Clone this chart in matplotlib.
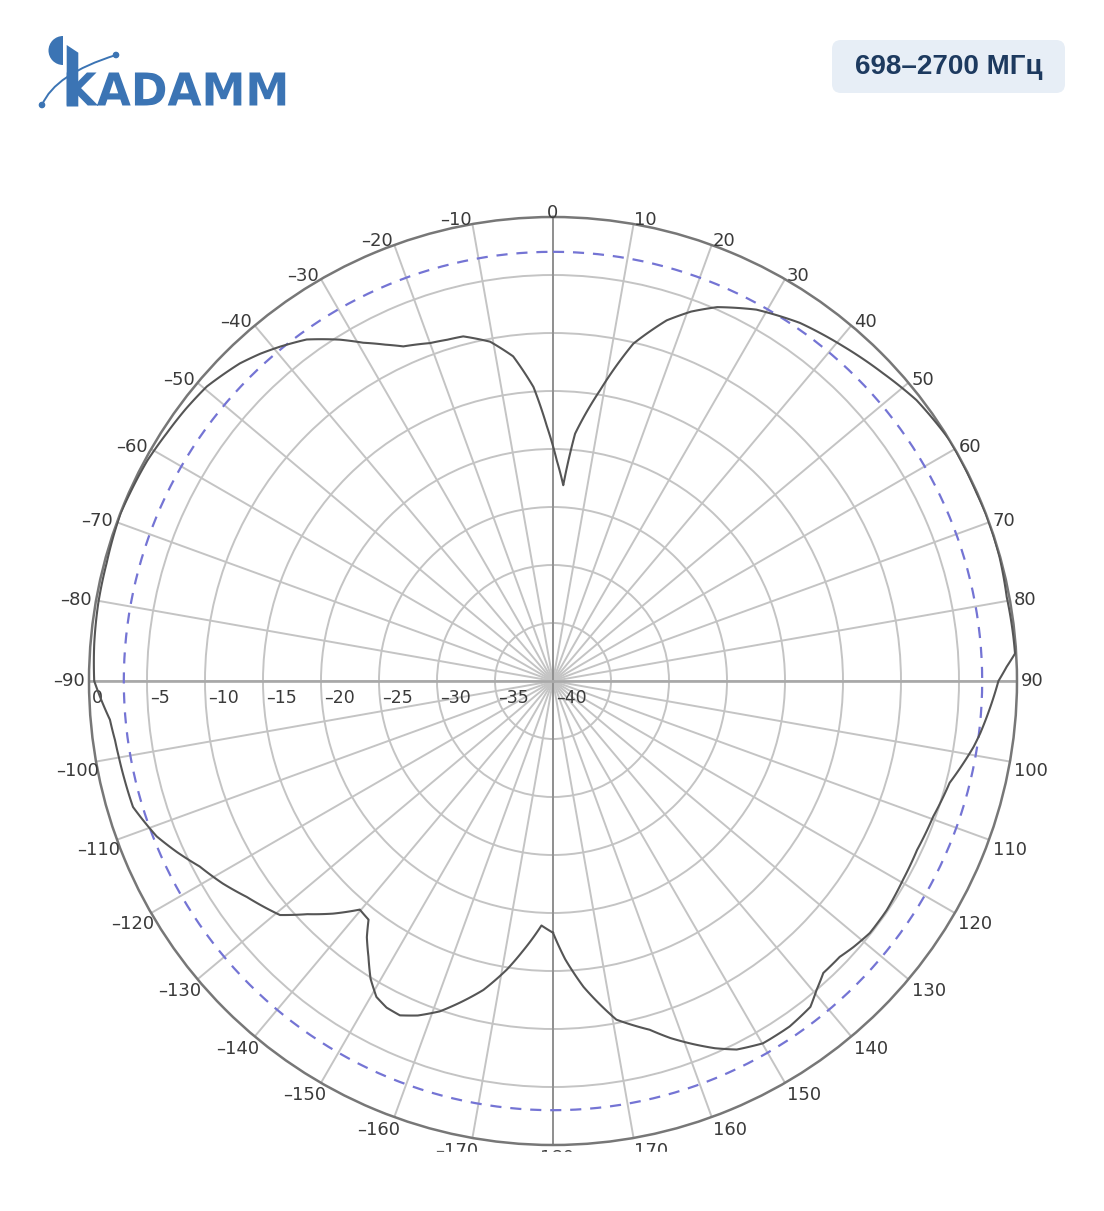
import numpy as np
import matplotlib.pyplot as plt
from matplotlib.patches import Wedge, Polygon, FancyBboxPatch, PathPatch, Rectangle, Circle
from matplotlib.textpath import TextPath
from matplotlib.font_manager import FontProperties
from matplotlib.path import Path
import matplotlib.transforms as mtransforms

# Diagramme de rayonnement (dB) en fonction de l'angle (degrés)
angles = [-180, -177.3, -173.5, -170.9, -167.3, -164, -161.1, -158, -155.4, -153,
          -150.8, -148.5, -146.2, -144, -142.3, -139.8, -136.6, -133.5, -130.6, -125.2,
          -121.5, -117.7, -114.5, -111.4, -106.7, -103, -99.9, -97.7, -95, -92.5,
          -90, -85.3, -80.3, -75.2, -68.8, -66.1, -61.5, -57.3, -53.5, -49.6,
          -44.6, -41.8, -39.2, -35.8, -32.0, -29.3, -26.5, -24.1, -20.0, -17.2,
          -14.6, -10.5, -7.0, -3.8, -1.4, 1.0, 3.0, 5.1, 9.2, 13.4,
          17.5, 20.5, 23.7, 28.7, 34.6, 41.0, 47.0, 52.3, 58.7, 66.1,
          68.9, 74.5, 79.5, 84.5, 86.6, 88.2, 90.0, 93.5, 97.0, 98.9,
          104.4, 109.6, 114.9, 119.6, 124.5, 128.5, 131.5, 133.9, 137.2, 139.5,
          141.7, 145.6, 149.9, 153.5, 156.2, 158.9, 161.8, 164.5, 169.4, 174.3,
          177.5, 180]
gain_db = [-18.3, -18.9, -16.5, -14.8, -12.7, -11.2, -9.9, -8.9, -8.3, -8.4,
           -8.8, -9.9, -11.4, -12.7, -14.0, -14.2, -12.4, -10.8, -9.0, -7.7,
           -6.6, -5.6, -4.4, -3.3, -2.2, -2.1, -2.0, -1.9, -1.66, -1.05,
           -0.45, -0.32, -0.23, -0.2, -0.02, -0.1, -0.2, -0.44, -0.6, -0.82,
           -1.55, -2.15, -2.8, -3.7, -5.3, -6.56, -7.6, -8.4, -9.0, -9.2,
           -9.3, -10.25, -11.8, -14.6, -18.0, -21.0, -23.1, -18.6, -14.6, -10.1,
           -7.4, -6.0, -4.8, -3.5, -2.5, -1.8, -1.1, -0.4, 0.0, -0.05,
           0.0, -0.05, -0.22, -0.13, -0.1, -0.87, -1.6, -2.25, -2.9, -3.3,
           -4.7, -5.2, -5.4, -5.3, -5.1, -5.1, -5.4, -5.7, -5.7, -5.0,
           -4.2, -3.9, -3.9, -4.5, -5.4, -6.45, -7.6, -8.8, -10.3, -13.5,
           -16.0, -18.3]

ring_values = [-35, -30, -25, -20, -15, -10, -5]
ring_labels = ['0', '-5', '-10', '-15', '-20', '-25', '-30', '-35', '-40']
ring_label_values = [0, -5, -10, -15, -20, -25, -30, -35, -40]
angle_ticks = list(range(-170, 190, 10))
half_power = -3

fig = plt.figure(figsize=(11.04, 12.11), dpi=100)

ax = fig.add_axes([0.0806, 0.0545, 0.8406, 0.7663], projection='polar')
ax.set_theta_zero_location('N')
ax.set_theta_direction(-1)
ax.set_ylim(-40, 0)
ax.set_thetagrids(range(0, 360, 10), labels=[])
ax.set_rgrids(ring_values, labels=[])
ax.grid(True, color='#c4c4c4', linewidth=1.4)
ax.tick_params(length=0)
ax.spines['polar'].set_color('#777777')
ax.spines['polar'].set_linewidth(1.8)

# axes principaux plus foncés
ax.plot(np.deg2rad([0, 0]), [-40, 0], color='#8c8c8c', lw=1.3, zorder=2)
ax.plot(np.deg2rad([180, 180]), [-40, 0], color='#8c8c8c', lw=1.3, zorder=2)
ax.plot(np.deg2rad([90, 90]), [-40, 0], color='#a8a8a8', lw=1.9, zorder=2)
ax.plot(np.deg2rad([-90, -90]), [-40, 0], color='#a8a8a8', lw=1.9, zorder=2)

# cercle -3 dB
full = np.deg2rad(np.linspace(0, 360, 721))
ax.plot(full, np.full_like(full, half_power), color='#7474d4', lw=1.6,
        linestyle=(0, (5, 4)), zorder=3)

# diagramme (tracé lissé en coordonnées polaires)
line, = ax.plot(np.deg2rad(angles), gain_db, color='#555555', lw=1.5, zorder=4)
line.get_path()._interpolation_steps = 40

# étiquettes d'angle
lab_color = '#3a3a3a'
shift_right = mtransforms.offset_copy(ax.transData, fig=fig, x=7, y=0, units='dots')
for a in angle_ticks:
    tr_txt = ax.transData
    if a == 0:
        ha, va = 'center', 'center'
    elif a == 180:
        ha, va = 'center', 'top'
    elif a > 0:
        ha = 'left'
        va = 'center' if a <= 90 else 'top'
    else:
        ha = 'right'
        va = 'center' if a >= -90 else 'top'
        if a < -90:
            tr_txt = shift_right
    txt = str(a).replace('-', '–')
    if a == 180:
        txt = '–180'
    ax.text(np.deg2rad(a), 0.35, txt, ha=ha, va=va, fontsize=13,
            color=lab_color, clip_on=False, transform=tr_txt)

# étiquettes radiales
off = mtransforms.offset_copy(ax.transData, fig=fig, x=3, y=-8, units='dots')
for v, lbl in zip(ring_label_values, ring_labels):
    ax.text(np.deg2rad(-90), v, lbl.replace('-', '–'), transform=off,
            ha='left', va='top', fontsize=12.5, color=lab_color, clip_on=False)

# calque en coordonnées pixels : logo, badge, découpe du bas
ov = fig.add_axes([0, 0, 1, 1], zorder=10)
ov.set_xlim(0, 1104)
ov.set_ylim(1211, 0)
ov.axis('off')
ov.patch.set_alpha(0)

ov.add_patch(Rectangle((0, 1152), 1104, 60, color='white', zorder=1))

blue = '#3b74b4'
ov.add_patch(Wedge((63, 50.5), 14.5, 90, 270, color=blue, lw=0))
ov.add_patch(Polygon([(66.7, 45), (78.3, 52.7), (78.3, 106.5), (66.7, 106.5)],
                     closed=True, color=blue, lw=0))
tp = TextPath((0, 0), 'KADAMM', size=40,
              prop=FontProperties(family='DejaVu Sans', weight='bold'))
bb = tp.get_extents()
tr = (mtransforms.Affine2D().translate(-bb.x0, -bb.y0)
      .scale(218.5 / bb.width, -33.0 / bb.height).translate(66.7, 105.5))
ov.add_patch(PathPatch(tr.transform_path(tp), color=blue, lw=0))
arc = Path([(42, 105), (55, 74), (116, 55)], [Path.MOVETO, Path.CURVE3, Path.CURVE3])
ov.add_patch(PathPatch(arc, fill=False, ec=blue, lw=1.4))
ov.add_patch(Circle((42, 105), 2.6, color=blue))
ov.add_patch(Circle((116, 55), 2.6, color=blue))

ov.add_patch(FancyBboxPatch((832, 40), 233, 53, boxstyle='round,pad=0,rounding_size=9',
                            fc='#e7eef6', ec='none'))
ov.text(948.5, 67, '698–2700 МГц', ha='center', va='center', fontsize=20,
        fontweight='bold', family='Liberation Sans', color='#1d3a5f')

fig.savefig('out.png', dpi=100)
